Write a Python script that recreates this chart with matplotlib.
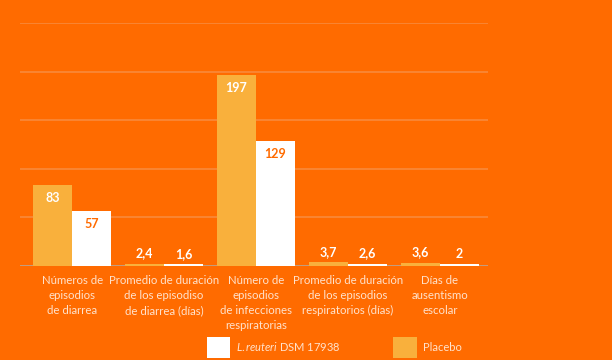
import numpy as np
import matplotlib
matplotlib.use('Agg')
import matplotlib.pyplot as plt
from matplotlib.patches import Patch

plt.rcParams['font.family'] = 'Lato'
plt.rcParams['mathtext.fontset'] = 'custom'
plt.rcParams['mathtext.rm'] = 'Lato'
plt.rcParams['mathtext.it'] = 'Lato:italic'

# datos
categorias = ['Números de\nepisodios\nde diarrea',
              'Promedio de duración\nde los episodiso\nde diarrea (días)',
              'Número de\nepisodios\nde infecciones\nrespiratorias',
              'Promedio de duración\nde los episodios\nrespiratorios (días)',
              'Días de\nausentismo\nescolar']
placebo = [83, 2.4, 197, 3.7, 3.6]
reuteri = [57, 1.6, 129, 2.6, 2]
etiq_placebo = ['83', '2,4', '197', '3,7', '3,6']
etiq_reuteri = ['57', '1,6', '129', '2,6', '2']

fondo = '#FF6B00'
amarillo = '#F9B03C'
texto = '#FFE2CC'

fig = plt.figure(figsize=(6.12, 3.6), dpi=100, facecolor=fondo)
ax = fig.add_axes([0.033, 0.261, 0.764, 0.675])
ax.set_facecolor(fondo)

x = np.arange(len(categorias))
w = 0.424
ax.bar(x - w/2, placebo, w, color=amarillo, zorder=3)
ax.bar(x + w/2, reuteri, w, color='white', zorder=3)

ax.set_ylim(0, 250)
ax.set_xlim(-0.565, 4.522)
ax.set_yticks([50, 100, 150, 200, 250])
ax.yaxis.grid(True, color='#F88A3C', linewidth=1.2, zorder=0)
ax.axhline(0, color='#B8A698', linewidth=1.2, zorder=2)
ax.tick_params(left=False, bottom=False, labelleft=False)
for s in ax.spines.values():
    s.set_visible(False)

ax.set_xticks(x)
ax.set_xticklabels(categorias, fontsize=8.2, color=texto, linespacing=1.45)
ax.tick_params(axis='x', pad=3)

# etiquetas de valores
for i in range(len(x)):
    for val, txt, xx, col_in in [(placebo[i], etiq_placebo[i], x[i] - w/2, 'white'),
                                 (reuteri[i], etiq_reuteri[i], x[i] + w/2, fondo)]:
        if val > 20:
            ax.annotate(txt, (xx, val), xytext=(0, -5), textcoords='offset points',
                        ha='center', va='top', fontsize=9, fontweight='bold', color=col_in, zorder=4)
        else:
            ax.annotate(txt, (xx, val), xytext=(0, 3), textcoords='offset points',
                        ha='center', va='bottom', fontsize=9, fontweight='bold', color='white', zorder=4)

handles = [Patch(facecolor='white', edgecolor='none'), Patch(facecolor=amarillo, edgecolor='none')]
labels = [r'$\mathit{L.reuteri}$ DSM 17938', 'Placebo']
fig.legend(handles, labels, loc='lower left', bbox_to_anchor=(207/612, 2/360), ncol=2, frameon=False,
           fontsize=8, labelcolor=texto, handlelength=2.1, handleheight=2.6,
           columnspacing=4.7, handletextpad=0.55, borderpad=0, borderaxespad=0)

fig.savefig('out.png', dpi=100, facecolor=fondo)
